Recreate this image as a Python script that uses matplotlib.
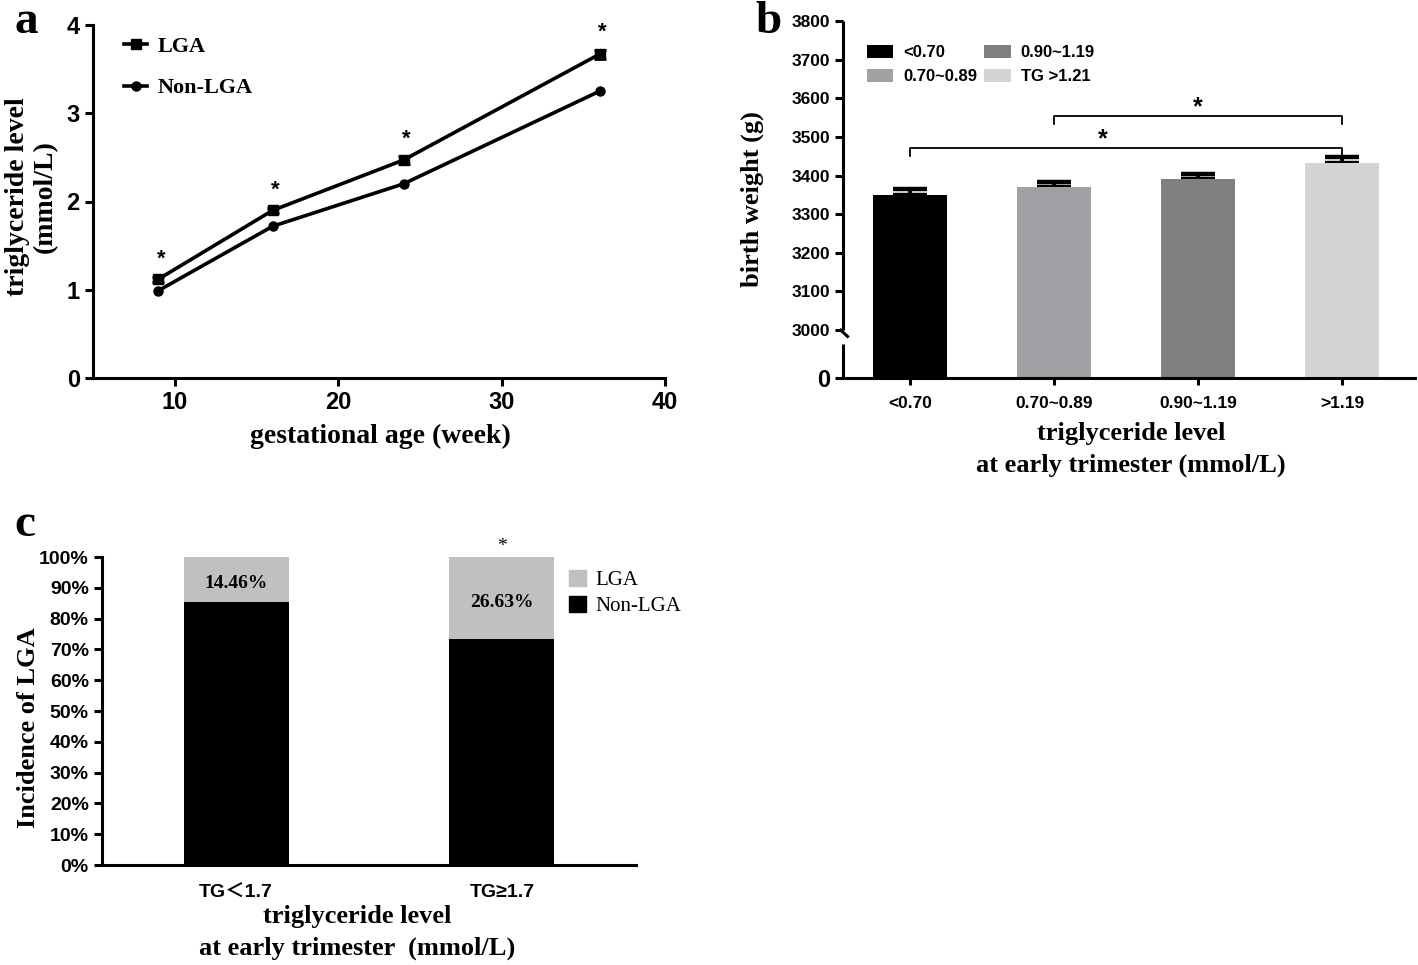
import numpy as np
import matplotlib.pyplot as plt
from matplotlib.patches import Patch
from matplotlib.lines import Line2D

plt.rcParams['font.family'] = ['Liberation Sans Narrow', 'Liberation Sans', 'DejaVu Sans']
plt.rcParams['font.weight'] = 'bold'

SERIF = ['Liberation Serif', 'DejaVu Serif']
SANS_CJK = ['Liberation Sans Narrow', 'Liberation Sans', 'Noto Sans CJK SC', 'DejaVu Sans']

# panel a: triglyceride by gestational age
weeks = [9, 16, 24, 36]
tg_lga = [1.12, 1.90, 2.47, 3.67]
tg_lga_err = [0.03, 0.03, 0.04, 0.05]
tg_non = [0.99, 1.72, 2.20, 3.25]
tg_non_err = [0.01, 0.01, 0.01, 0.01]

# panel b: birth weight by early TG group
tg_groups = ['<0.70', '0.70~0.89', '0.90~1.19', '>1.19']
legend_b = ['<0.70', '0.70~0.89', '0.90~1.19', 'TG >1.21']
bw_mean = [3350, 3370, 3392, 3432]
bw_sem = [15, 13, 13, 15]
colors_b = ['#000000', '#a0a0a4', '#808080', '#d4d4d4']

# panel c: LGA incidence
tg_c = ['TG\uff1c1.7', 'TG\u22651.7']
lga_pct = [14.46, 26.63]
non_pct = [100 - v for v in lga_pct]

W, H = 1418, 965
fig = plt.figure(figsize=(W / 100, H / 100), dpi=100)

def axes_px(l, t, r, b):
    return fig.add_axes([l / W, 1 - b / H, (r - l) / W, (b - t) / H])

def style(ax, lw=2.2):
    for s in ['top', 'right']:
        ax.spines[s].set_visible(False)
    for s in ['left', 'bottom']:
        ax.spines[s].set_linewidth(lw)
    ax.tick_params(width=lw, length=6, direction='out')

def labels(ax, xl, yl, xc, yc, size=19, ls=1.45, yls=1.1):
    ax.set_xlabel(xl, fontsize=size, fontfamily=SERIF, fontweight='bold', linespacing=ls, va='center')
    ax.xaxis.set_label_coords(*xc)
    ax.set_ylabel(yl, fontsize=size, fontfamily=SERIF, fontweight='bold', linespacing=yls, va='center')
    ax.yaxis.set_label_coords(*yc)

# ---------------- a
ax = axes_px(93, 25, 665, 378)
style(ax)
ax.errorbar(weeks, tg_lga, yerr=tg_lga_err, color='black', lw=2.6, marker='s', ms=7,
            capsize=4, capthick=2)
ax.errorbar(weeks, tg_non, yerr=tg_non_err, color='black', lw=2.6, marker='o', ms=6.5,
            capsize=3, capthick=2)
for x, y, e in zip(weeks, tg_lga, tg_lga_err):
    ax.text(x + 0.15, y + e + 0.08, '*', ha='center', va='bottom', fontsize=16, fontfamily=SANS_CJK)
ax.set_xlim(5, 40)
ax.set_ylim(0, 4)
ax.set_xticks([10, 20, 30, 40])
ax.set_yticks([0, 1, 2, 3, 4])
ax.tick_params(labelsize=17)
labels(ax, 'gestational age (week)', 'triglyceride level\n(mmol/L)', (0.503, -0.165), (-0.107, 0.513),
       size=20, yls=1.15)
hl = [Line2D([], [], color='black', lw=2.6, marker='s', ms=7),
      Line2D([], [], color='black', lw=2.6, marker='o', ms=6.5)]
ax.legend(handles=hl, labels=['LGA', 'Non-LGA'], loc='upper left', bbox_to_anchor=(0.02, 1.025),
          frameon=False, handlelength=1.0, handletextpad=0.5, labelspacing=0.95,
          prop={'family': SERIF, 'weight': 'bold', 'size': 16})
fig.text(14 / W, 1 - 22 / H, 'a', fontsize=34, fontfamily=SERIF, fontweight='bold', va='center')

# ---------------- b
cut, low_h = 3000, 124.0

def fwd(y):
    y = np.asarray(y, float)
    return np.where(y >= cut, y - cut + low_h, y * low_h / cut)

def inv(z):
    z = np.asarray(z, float)
    return np.where(z >= low_h, z + cut - low_h, z * cut / low_h)

ax = axes_px(843, 21, 1415, 378)
style(ax)
ax.set_yscale('function', functions=(fwd, inv))
xb = np.arange(len(tg_groups))
for i in range(len(tg_groups)):
    ax.bar(xb[i], bw_mean[i], width=0.52, color=colors_b[i], label=legend_b[i], zorder=2)
ax.errorbar(xb, bw_mean, yerr=[[0] * 4, bw_sem], fmt='none', ecolor='black', elinewidth=2.8,
            capsize=12.5, capthick=3.2, zorder=1)
ax.set_xlim(-0.465, 3.507)
ax.set_ylim(0, 3800)
ax.set_yticks([0] + list(range(3000, 3801, 100)))
ax.set_xticks(xb)
ax.set_xticklabels(tg_groups)
ax.tick_params(labelsize=12.5)
ax.tick_params(axis='x', length=5, pad=8)
ax.get_yticklabels()[0].set_fontsize(17)
# broken left spine
ax.spines['left'].set_visible(False)
ytr = ax.get_yaxis_transform()
ax.plot([0, 0], [3000, 3800], transform=ytr, color='black', lw=2.2, clip_on=False, solid_capstyle='butt')
ax.plot([0, 0], [0, 2150], transform=ytr, color='black', lw=2.2, clip_on=False, solid_capstyle='butt')
ax.plot([-0.004, 0.008], [3000, 2600], transform=ytr, color='black', lw=2.2, clip_on=False)
# significance brackets
for x0, x1, yb, sx in [(1, 3, 3553, 2.0), (0, 3, 3470, 1.34)]:
    ax.plot([x0, x0, x1, x1], [yb - 20, yb, yb, yb - 20], color='black', lw=1.3)
    ax.text(sx, yb - 8, '*', ha='center', va='bottom', fontsize=18, fontfamily=SANS_CJK)
ax.legend(loc='upper left', bbox_to_anchor=(0.015, 0.975), ncol=2, frameon=False, handlelength=1.6,
          handleheight=0.8, handletextpad=0.6, columnspacing=0.4, labelspacing=0.55,
          prop={'weight': 'bold', 'size': 12})
labels(ax, 'triglyceride level\nat early trimester (mmol/L)', 'birth weight (g)', (0.503, -0.2), (-0.159, 0.5))
fig.text(755 / W, 1 - 22 / H, 'b', fontsize=34, fontfamily=SERIF, fontweight='bold', va='center')

# ---------------- c
ax = axes_px(102, 557, 636, 865)
style(ax)
xc = np.arange(len(tg_c))
ax.bar(xc, non_pct, width=0.395, color='black')
ax.bar(xc, lga_pct, width=0.395, bottom=non_pct, color='#c0c0c0')
for i, v in enumerate(lga_pct):
    ax.text(xc[i], non_pct[i] + v / 2 - 1.5, '%.2f%%' % v, ha='center', va='center',
            fontsize=14, fontfamily=SERIF, fontweight='bold')
ax.text(xc[1], 100.8, '*', ha='center', va='bottom', fontsize=14, fontfamily=SERIF, fontweight='normal')
ax.set_xlim(-0.504, 1.504)
ax.set_ylim(0, 100)
ax.set_yticks(range(0, 101, 10))
ax.set_yticklabels(['%d%%' % v for v in range(0, 101, 10)])
ax.set_xticks(xc)
ax.set_xticklabels(tg_c, fontfamily=SANS_CJK)
ax.tick_params(labelsize=14)
ax.tick_params(axis='x', length=0, pad=14)
ax.legend(handles=[Patch(color='#c0c0c0', label='LGA'), Patch(color='black', label='Non-LGA')],
          loc='upper left', bbox_to_anchor=(0.84, 1.02), frameon=False, handlelength=0.8,
          handleheight=0.8, handletextpad=0.45, labelspacing=0.3,
          prop={'family': SERIF, 'weight': 'normal', 'size': 15})
labels(ax, 'triglyceride level\nat early trimester  (mmol/L)', 'Incidence of LGA', (0.478, -0.22), (-0.138, 0.445))
fig.text(14 / W, 1 - 525 / H, 'c', fontsize=34, fontfamily=SERIF, fontweight='bold', va='center')

fig.savefig('out.png', dpi=100)
